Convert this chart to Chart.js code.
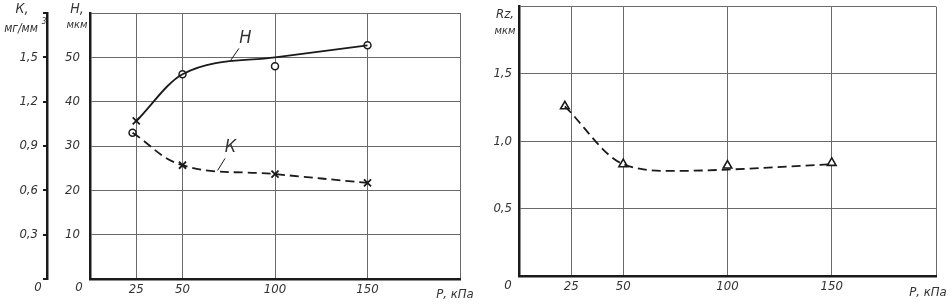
<!DOCTYPE html>
<html>
<head>
<meta charset="utf-8">
<script src="https://cdn.jsdelivr.net/npm/chart.js@4"></script>
<style>
  body { margin: 0; background: #fff; }
  .box { position: absolute; top: 0; width: 476px; height: 305px; }
</style>
</head>
<body>
<div class="box" style="left:0"><canvas id="left" width="476" height="305"></canvas></div>
<div class="box" style="left:476px"><canvas id="right" width="476" height="305"></canvas></div>
<script>
// ---- données ----
const xTicks = [25, 50, 100, 150, 200];

// H, мкм (cercles) et sa courbe lissée
const hPoints = [[23, 33], [50, 46.2], [100, 48], [150, 52.7]];
const hCurve = [[25, 35.6], [50, 46.2], [100, 50], [150, 52.7]];

// K, мг/мм3 (croix) et sa courbe en tirets
const kPoints = [[25, 1.07], [50, 0.77], [100, 0.71], [150, 0.65]];
const kCurve = [[23, 0.99], [50, 0.77], [100, 0.71], [150, 0.65]];

// Rz, мкм (triangles) et sa courbe en tirets
const rzPoints = [[22, 1.26], [50, 0.83], [100, 0.82], [150, 0.84]];
const rzCurve = [[22, 1.26], [50, 0.83], [75, 0.78], [100, 0.79], [150, 0.83]];

const FONT = "'Liberation Sans Narrow', 'DejaVu Sans Condensed', sans-serif";
const INK = '#1a1a1a';
const GRID = '#6a6a6a';

Chart.defaults.font.family = FONT;
Chart.defaults.font.style = 'italic';
Chart.defaults.font.size = 13;
Chart.defaults.color = '#333';

const toXY = arr => arr.map(p => ({ x: p[0], y: p[1] }));
const comma = v => v.toFixed(1).replace('.', ',');

// pas de marge automatique autour des axes
function noPad(a) {
  a.paddingTop = 0; a.paddingBottom = 0; a.paddingLeft = 0; a.paddingRight = 0;
}

// Axe X commun
function xAxis(h) {
  return {
    type: 'linear', min: 0, max: 200,
    afterBuildTicks: a => { a.ticks = xTicks.map(v => ({ value: v })); },
    afterFit: a => { a.height = h; noPad(a); },
    ticks: { callback: v => (v === 200 ? '' : v), autoSkip: false, maxRotation: 0, padding: 3 },
    grid: { color: GRID, lineWidth: 1, drawTicks: false },
    border: { color: INK, width: 2.5 }
  };
}

// Textes libres (unités, zéros, repères)
function textPlugin(items) {
  return {
    id: 'texts',
    afterDraw(chart) {
      const ctx = chart.ctx;
      ctx.save();
      ctx.fillStyle = '#333';
      ctx.strokeStyle = INK;
      ctx.textBaseline = 'middle';
      items(chart).forEach(t => {
        if (t.line) {
          ctx.lineWidth = 1;
          ctx.beginPath();
          ctx.moveTo(t.line[0], t.line[1]);
          ctx.lineTo(t.line[2], t.line[3]);
          ctx.stroke();
          return;
        }
        ctx.font = 'italic ' + (t.size || 13) + 'px ' + FONT;
        ctx.textAlign = t.align || 'center';
        ctx.fillText(t.text, t.x, t.y);
      });
      ctx.restore();
    }
  };
}

// ========================
// Graphique gauche : H et K
// ========================
new Chart(document.getElementById('left'), {
  type: 'scatter',
  data: {
    datasets: [
      { data: toXY(hCurve), yAxisID: 'h', showLine: true, pointRadius: 0,
        borderColor: INK, borderWidth: 1.8, cubicInterpolationMode: 'monotone' },
      { data: toXY(kCurve), yAxisID: 'k', showLine: true, pointRadius: 0,
        borderColor: INK, borderWidth: 1.8, borderDash: [9, 5], tension: 0.4 },
      { data: toXY(hPoints), yAxisID: 'h', pointStyle: 'circle', pointRadius: 3.5,
        pointBorderWidth: 1.5, borderColor: INK, backgroundColor: '#fff' },
      { data: toXY(kPoints), yAxisID: 'k', pointStyle: 'crossRot', pointRadius: 5,
        pointBorderWidth: 1.8, borderColor: INK }
    ]
  },
  options: {
    responsive: false, animation: false, devicePixelRatio: 1,
    layout: { padding: { left: 0, right: 16, top: 13, bottom: 0 } },
    plugins: { legend: { display: false }, tooltip: { enabled: false } },
    scales: {
      x: xAxis(26),
      h: {
        position: 'left', min: 0, max: 60, weight: 0,
        afterFit: a => { a.width = 43; noPad(a); },
        ticks: { stepSize: 10, padding: 10, callback: v => (v === 0 || v === 60 ? '' : v) },
        grid: { color: GRID, lineWidth: 1, drawTicks: false },
        border: { color: INK, width: 2.5 }
      },
      k: {
        position: 'left', min: 0, max: 1.8, weight: 1,
        afterFit: a => { a.width = 47; noPad(a); },
        ticks: { stepSize: 0.3, padding: 5, callback: v => (v < 0.01 || v > 1.7 ? '' : comma(v)) },
        grid: { drawOnChartArea: false, drawTicks: true, tickLength: 4, color: INK, lineWidth: 2 },
        border: { color: INK, width: 2.5 }
      }
    }
  },
  plugins: [textPlugin(chart => {
    const x = chart.scales.x, h = chart.scales.h;
    return [
      { text: 'К,', x: 22, y: 9, size: 14 },
      { text: 'мг/мм', x: 21, y: 29, size: 12 },
      { text: '3', x: 44, y: 22, size: 8 },
      { text: 'Н,', x: 77, y: 9, size: 14 },
      { text: 'мкм', x: 77, y: 25, size: 11 },
      { text: '0', x: 38, y: 288 },
      { text: '0', x: 79, y: 288 },
      { text: 'Р, кПа', x: 455, y: 295 },
      { text: 'Н', x: x.getPixelForValue(84), y: h.getPixelForValue(54.3), size: 18 },
      { line: [x.getPixelForValue(76), h.getPixelForValue(49.3), x.getPixelForValue(80.5), h.getPixelForValue(52)] },
      { text: 'К', x: x.getPixelForValue(76), y: h.getPixelForValue(29.7), size: 18 },
      { line: [x.getPixelForValue(69), h.getPixelForValue(24.5), x.getPixelForValue(73), h.getPixelForValue(27.2)] }
    ];
  })]
});

// ========================
// Graphique droit : Rz
// ========================
new Chart(document.getElementById('right'), {
  type: 'scatter',
  data: {
    datasets: [
      { data: toXY(rzCurve), showLine: true, pointRadius: 0,
        borderColor: INK, borderWidth: 1.8, borderDash: [9, 5], cubicInterpolationMode: 'monotone' },
      { data: toXY(rzPoints), pointStyle: 'triangle', pointRadius: 5,
        pointBorderWidth: 1.6, borderColor: INK, backgroundColor: '#fff' }
    ]
  },
  options: {
    responsive: false, animation: false, devicePixelRatio: 1,
    layout: { padding: { left: 0, right: 16, top: 4, bottom: 0 } },
    plugins: { legend: { display: false }, tooltip: { enabled: false } },
    scales: {
      x: xAxis(29),
      y: {
        position: 'left', min: 0, max: 2,
        afterFit: a => { a.width = 43; noPad(a); },
        ticks: { stepSize: 0.5, padding: 7, callback: v => (v === 0 || v === 2 ? '' : comma(v)) },
        grid: { color: GRID, lineWidth: 1, drawTicks: false },
        border: { color: INK, width: 2.5 }
      }
    }
  },
  plugins: [textPlugin(() => [
    { text: 'Rz,', x: 29, y: 15, size: 13 },
    { text: 'мкм', x: 29, y: 31, size: 11 },
    { text: '0', x: 32, y: 286 },
    { text: 'Р, кПа', x: 452, y: 293 }
  ])]
});
</script>
</body>
</html>
